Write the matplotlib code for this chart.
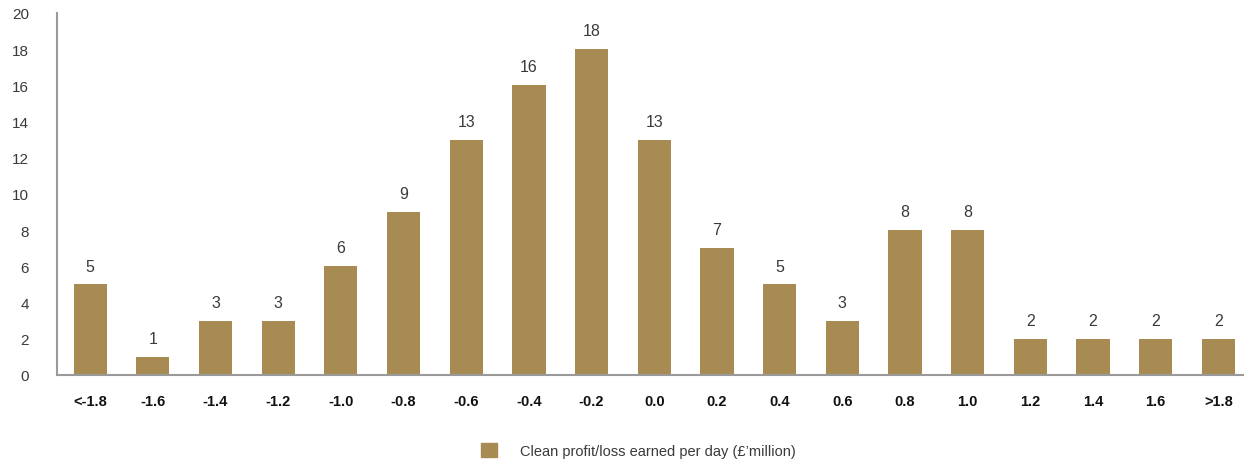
import matplotlib.pyplot as plt
from matplotlib.patches import Patch

plt.rcParams['font.family'] = ['Liberation Sans', 'DejaVu Sans']

# Bin labels and counts
categories = ['<-1.8', '-1.6', '-1.4', '-1.2', '-1.0', '-0.8', '-0.6', '-0.4', '-0.2', '0.0',
              '0.2', '0.4', '0.6', '0.8', '1.0', '1.2', '1.4', '1.6', '>1.8']
counts = [5, 1, 3, 3, 6, 9, 13, 16, 18, 13, 7, 5, 3, 8, 8, 2, 2, 2, 2]
legend_label = "Clean profit/loss earned per day (£\u2019million)"

bar_color = '#A88B52'
text_color = '#3a3a3a'

fig = plt.figure(figsize=(12.44, 4.64), dpi=100)
ax = fig.add_axes([0.0458, 0.19, 0.9542, 0.78])

x = range(len(categories))
bars = ax.bar(x, counts, width=0.53, color=bar_color)

for xi, v in zip(x, counts):
    ax.text(xi, v + 0.6, str(v), ha='center', va='bottom', fontsize=11.5, color=text_color)

ax.set_xlim(-0.53, 18.41)
ax.set_ylim(0, 20)
ax.set_yticks(range(0, 21, 2))
ax.set_xticks(list(x))
ax.set_xticklabels(categories, fontweight='bold', fontsize=10.5, color='#111111')
ax.tick_params(axis='y', length=0, pad=20, labelsize=11, labelcolor=text_color)
ax.tick_params(axis='x', length=0, pad=14)

for side in ['top', 'right']:
    ax.spines[side].set_visible(False)
ax.spines['left'].set_color('#9a9a9a')
ax.spines['bottom'].set_color('#9a9a9a')
ax.spines['left'].set_linewidth(1.5)
ax.spines['bottom'].set_linewidth(1.5)

fig.legend(handles=[Patch(color=bar_color, label=legend_label)],
           loc='center', bbox_to_anchor=(0.513, 0.026), frameon=False,
           fontsize=10.5, handlelength=1.1, handleheight=1.1, handletextpad=1.6,
           labelcolor=text_color)

fig.savefig('out.png', dpi=100)
